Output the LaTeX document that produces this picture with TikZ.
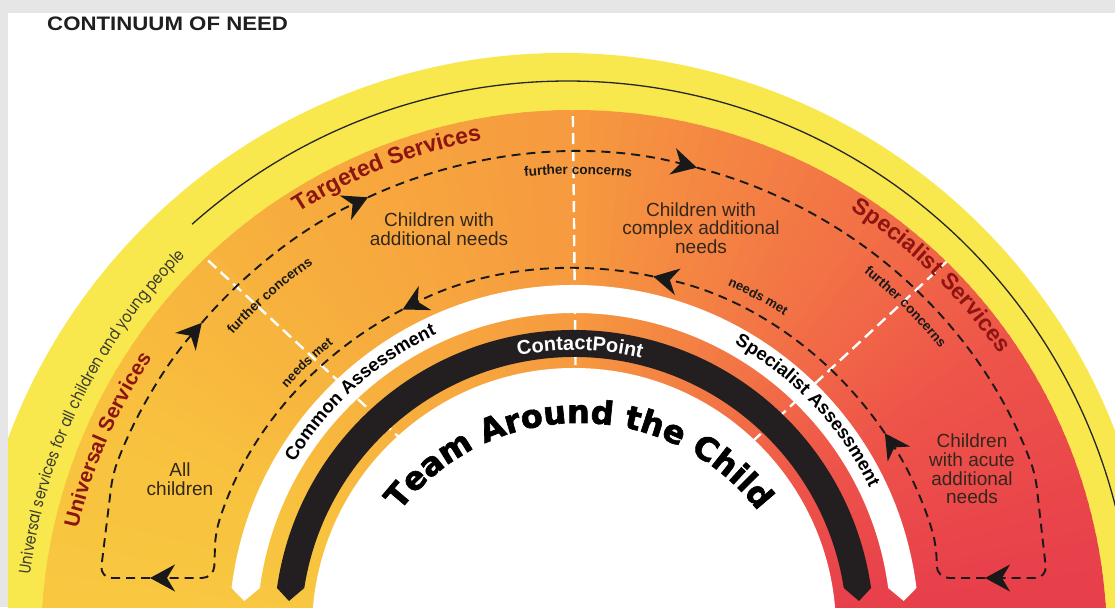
\documentclass[tikz,border=0pt]{standalone}
\usepackage{fontspec}
\setmainfont{Liberation Sans}
\newfontfamily\geofont{Poppins}[FakeStretch=0.85]
\newfontfamily\heavyfont{DejaVu Sans Bold}[FakeBold=2]
\usetikzlibrary{decorations.text,arrows.meta,calc}
\definecolor{bgray}{HTML}{E6E6E6}
\definecolor{ylw}{HTML}{F8E84E}
\definecolor{dkred}{HTML}{8C1512}
\definecolor{bandblk}{HTML}{231F20}
\definecolor{txt}{HTML}{33261A}
\definecolor{txtg}{HTML}{3A3A30}
\definecolor{gA}{HTML}{E53A4B}
\definecolor{gB}{HTML}{E8414B}
\definecolor{gC}{HTML}{EE5549}
\definecolor{gD}{HTML}{F27046}
\definecolor{gE}{HTML}{F69A3F}
\definecolor{gF}{HTML}{F7AE3E}
\definecolor{gG}{HTML}{F8C23E}
\definecolor{gH}{HTML}{F9CB42}
\tikzset{
  loopline/.style={draw=black!90, line width=1.9pt, dash pattern=on 9pt off 6pt},
  looptip/.style={-{Stealth[length=25pt,width=27pt,inset=8pt]}},
  divider/.style={draw=white, line width=2.4pt, dash pattern=on 11pt off 6pt},
  boxtext/.style={font=\fontsize{19}{18.7}\selectfont, text=txt, align=center, inner sep=0pt},
}
\begin{document}
\begin{tikzpicture}[x=1pt,y=1pt]
\useasboundingbox (0,0) rectangle (1115,607);
\fill[bgray] (0,0) rectangle (1115,607);
\fill[white] (8,0) rectangle (1115,594);
\coordinate (Co) at (563,-38);
\coordinate (Cl) at (568,-39);
\coordinate (Cs) at (574,-36);
\coordinate (Ci) at (574,-23);
\coordinate (Ct) at (579,-42);
\coordinate (P0) at (578,4);
\begin{scope}
\clip (8,0) rectangle (1115,594);
% outer yellow band
\fill[ylw] (Co) circle (592);
\draw[line width=1.3pt, black!85] ($(Cl)+(131.7:565)$) arc[start angle=131.7, end angle=-5, radius=565];
% services band with angular gradient
\foreach \angA/\angB/\colA/\colB in {-10/10/gA/gB, 10/35/gB/gC, 35/55/gC/gD, 55/90/gD/gE, 90/125/gE/gF, 125/155/gF/gG, 155/190/gG/gH} {
  \foreach \i in {0,...,19} {
    \pgfmathsetmacro\wa{\angA+(\angB-\angA)*\i/20}
    \pgfmathsetmacro\wb{\angA+(\angB-\angA)*(\i+1)/20+0.4}
    \pgfmathtruncatemacro\wp{100*(\i+0.5)/20}
    \colorlet{wc}{\colB!\wp!\colA}
    \fill[wc] (Cs) -- ($(Cs)+(\wa:533)$) arc[start angle=\wa, end angle=\wb, radius=533] -- cycle;
  }
}
% white dashed dividers
\begin{scope}
\clip (Cs) circle (533);
\draw[divider] (P0) -- ++(137.2:700);
\draw[divider] (P0) -- ++(90.6:700);
\draw[divider] (P0) -- ++(42.8:700);
\end{scope}
% outer band text
\path[decorate, decoration={text along path, text align=center,
  text={|\geofont\fontsize{16.5}{16.5}\selectfont\color{txtg}|Universal services for all children and young people}}]
  ($(Cs)+(190:548)$) arc[start angle=190, end angle=118, radius=548];
% service titles
\path[decorate, decoration={text along path, text align=center,
  text={|\fontsize{21}{21}\selectfont\bfseries\color{dkred}|Universal Services}}]
  ($(Cs)+(186.5:509)$) arc[start angle=186.5, end angle=126.5, radius=509];
\path[decorate, decoration={text along path, text align=center,
  text={|\fontsize{23}{23}\selectfont\bfseries\color{dkred}|Targeted Services}}]
  ($(Cs)+(141.5:511)$) arc[start angle=141.5, end angle=81.5, radius=511];
\path[decorate, decoration={text along path, text align=center,
  text={|\fontsize{23}{23}\selectfont\bfseries\color{dkred}|Specialist Services}}]
  ($(Cs)+(75.8:514)$) arc[start angle=75.8, end angle=15.8, radius=514];
% small labels
\path[decorate, decoration={text along path, text align=center,
  text={|\fontsize{13.5}{13.5}\selectfont\bfseries\color{black!90}|further concerns}}]
  ($(Cs)+(151.2:460)$) arc[start angle=151.2, end angle=111.2, radius=460];
\path[decorate, decoration={text along path, text align=center,
  text={|\fontsize{13.5}{13.5}\selectfont\bfseries\color{black!90}|further concerns}}]
  ($(Cs)+(109.5:469)$) arc[start angle=109.5, end angle=69.5, radius=469];
\path[decorate, decoration={text along path, text align=center,
  text={|\fontsize{13.5}{13.5}\selectfont\bfseries\color{black!90}|further concerns}}]
  ($(Cs)+(65.4:470)$) arc[start angle=65.4, end angle=25.4, radius=470];
\path[decorate, decoration={text along path, text align=center,
  text={|\fontsize{13}{13}\selectfont\bfseries\color{black!90}|needs met}}]
  ($(Cs)+(153.6:384)$) arc[start angle=153.6, end angle=113.6, radius=384];
\path[decorate, decoration={text along path, text align=center,
  text={|\fontsize{13}{13}\selectfont\bfseries\color{black!90}|needs met}}]
  ($(Cs)+(82:389)$) arc[start angle=82, end angle=42, radius=389];
% box texts
\node[boxtext] (allch) at (180,128) {All\\children};
\node[boxtext] (addn) at (439,378) {Children with\\additional needs};
\node[boxtext] (cplx) at (701,379) {Children with\\complex additional\\needs};
\node[boxtext] (acute) at (972,138) {Children\\with acute\\additional\\needs};
% dashed loop
\coordinate (tBL) at (150,29);
\coordinate (tBR) at (985,29);
\draw[loopline, looptip, rounded corners=12pt] ($(Cs)+(117.2:375)$) arc[start angle=117.2, end angle=163, radius=375] -- (214,29) -- (tBL);
\draw[loopline, looptip, rounded corners=12pt] (tBL) -- (100,29) -- ($(Cs)+(160:491)$) arc[start angle=160, end angle=139.3, radius=491];
\draw[loopline, looptip] ($(Cs)+(139.3:491)$) arc[start angle=139.3, end angle=114.8, radius=491];
\draw[loopline, looptip] ($(Cs)+(114.8:491)$) arc[start angle=114.8, end angle=75.5, radius=491];
\draw[loopline, looptip, rounded corners=12pt] ($(Cs)+(75.5:491)$) arc[start angle=75.5, end angle=20, radius=491] -- (1047,29) -- (tBR);
\draw[loopline, looptip, rounded corners=12pt] (tBR) -- (937,29) -- ($(Cs)+(15:375)$) arc[start angle=15, end angle=34, radius=375];
\draw[loopline, looptip] ($(Cs)+(34:375)$) arc[start angle=34, end angle=77.8, radius=375];
\draw[loopline, looptip] ($(Cs)+(77.8:375)$) arc[start angle=77.8, end angle=117.2, radius=375];
% assessment band (white) and ContactPoint band (black)
\fill[white] ($(Ci)+(173.01:345)$) arc[start angle=173.01, end angle=6.99, radius=345]
  -- ($(Ci)+(5.03:331)$) -- ($(Ci)+(7.61:317)$)
  arc[start angle=7.61, end angle=172.39, radius=317]
  -- ($(Ci)+(174.97:331)$) -- cycle;
\fill[bandblk] ($(Ci)+(171.95:300)$) arc[start angle=171.95, end angle=8.05, radius=300]
  -- ($(Ci)+(5.81:286.5)$) -- ($(Ci)+(8.85:273)$)
  arc[start angle=8.85, end angle=171.15, radius=273]
  -- ($(Ci)+(174.19:286.5)$) -- cycle;
\fill[white] (Ci) circle (262);
% band texts
\path[decorate, decoration={text along path, text align=center,
  text={|\fontsize{18.5}{18.5}\selectfont\bfseries\color{black}|Common Assessment}}]
  ($(Ci)+(167:326)$) arc[start angle=167, end angle=97, radius=326];
\path[decorate, decoration={text along path, text align=center,
  text={|\fontsize{18.5}{18.5}\selectfont\bfseries\color{black}|Specialist Assessment}}]
  ($(Ci)+(78.2:328)$) arc[start angle=78.2, end angle=8.2, radius=328];
\path[decorate, decoration={text along path, text align=center,
  text={|\fontsize{20}{20}\selectfont\bfseries\color{white}|ContactPoint}}]
  ($(Ci)+(118.8:280)$) arc[start angle=118.8, end angle=58.8, radius=280];
\path[decorate, decoration={text along path, text align=center,
  text={|\heavyfont\fontsize{32}{32}\selectfont\color{black}|Team Around the Child}}]
  ($(Ct)+(170:226)$) arc[start angle=170, end angle=10, radius=226];
\end{scope}
\node (title) [anchor=base west, font=\fontsize{19.5}{19.5}\selectfont\bfseries, text=black!88, xscale=1.14, inner sep=0pt] at (47,576) {CONTINUUM OF NEED};
\end{tikzpicture}
\end{document}
